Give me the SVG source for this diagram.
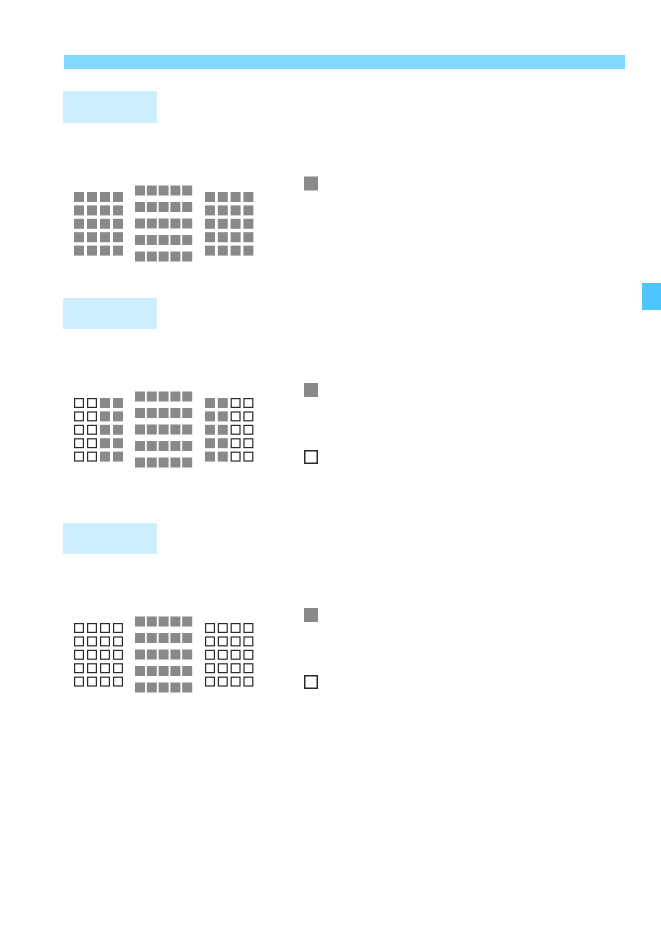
<svg xmlns="http://www.w3.org/2000/svg" xmlns:xlink="http://www.w3.org/1999/xlink" width="661" height="932" viewBox="0 0 661 932">
<style>
.f{fill:#898989}
.o{fill:#ffffff;stroke:#2a2a2a;stroke-width:1.2}
.lb{fill:#cceeff}
</style>
<defs>
<rect id="F" class="f" width="10" height="10"/>
<rect id="O" class="o" x="0.6" y="0.6" width="8.8" height="8.8"/>
<rect id="OL" class="o" x="0.75" y="0.75" width="12.5" height="12.5" style="stroke-width:1.5"/>
<rect id="FL" class="f" width="14" height="14"/>
</defs>
<rect id="topbar" x="64" y="55" width="561" height="14" fill="#80d9ff"/>
<rect id="tab" x="642" y="283" width="19" height="27" fill="#4dc5ff"/>

<g id="section1">
<rect class="lb" x="63" y="91" width="94" height="32"/>
<g id="grid1-left">
<use href="#F" x="74" y="192"/><use href="#F" x="87" y="192"/><use href="#F" x="100" y="192"/><use href="#F" x="113" y="192"/>
<use href="#F" x="74" y="205.4"/><use href="#F" x="87" y="205.4"/><use href="#F" x="100" y="205.4"/><use href="#F" x="113" y="205.4"/>
<use href="#F" x="74" y="218.8"/><use href="#F" x="87" y="218.8"/><use href="#F" x="100" y="218.8"/><use href="#F" x="113" y="218.8"/>
<use href="#F" x="74" y="232.2"/><use href="#F" x="87" y="232.2"/><use href="#F" x="100" y="232.2"/><use href="#F" x="113" y="232.2"/>
<use href="#F" x="74" y="245.6"/><use href="#F" x="87" y="245.6"/><use href="#F" x="100" y="245.6"/><use href="#F" x="113" y="245.6"/>
</g>
<g id="grid1-center">
<use href="#F" x="135" y="185.5"/><use href="#F" x="146.8" y="185.5"/><use href="#F" x="158.6" y="185.5"/><use href="#F" x="170.4" y="185.5"/><use href="#F" x="182.2" y="185.5"/>
<use href="#F" x="135" y="202"/><use href="#F" x="146.8" y="202"/><use href="#F" x="158.6" y="202"/><use href="#F" x="170.4" y="202"/><use href="#F" x="182.2" y="202"/>
<use href="#F" x="135" y="218.5"/><use href="#F" x="146.8" y="218.5"/><use href="#F" x="158.6" y="218.5"/><use href="#F" x="170.4" y="218.5"/><use href="#F" x="182.2" y="218.5"/>
<use href="#F" x="135" y="235"/><use href="#F" x="146.8" y="235"/><use href="#F" x="158.6" y="235"/><use href="#F" x="170.4" y="235"/><use href="#F" x="182.2" y="235"/>
<use href="#F" x="135" y="251.5"/><use href="#F" x="146.8" y="251.5"/><use href="#F" x="158.6" y="251.5"/><use href="#F" x="170.4" y="251.5"/><use href="#F" x="182.2" y="251.5"/>
</g>
<g id="grid1-right">
<use href="#F" x="205" y="192"/><use href="#F" x="217.8" y="192"/><use href="#F" x="230.6" y="192"/><use href="#F" x="243.4" y="192"/>
<use href="#F" x="205" y="205.4"/><use href="#F" x="217.8" y="205.4"/><use href="#F" x="230.6" y="205.4"/><use href="#F" x="243.4" y="205.4"/>
<use href="#F" x="205" y="218.8"/><use href="#F" x="217.8" y="218.8"/><use href="#F" x="230.6" y="218.8"/><use href="#F" x="243.4" y="218.8"/>
<use href="#F" x="205" y="232.2"/><use href="#F" x="217.8" y="232.2"/><use href="#F" x="230.6" y="232.2"/><use href="#F" x="243.4" y="232.2"/>
<use href="#F" x="205" y="245.6"/><use href="#F" x="217.8" y="245.6"/><use href="#F" x="230.6" y="245.6"/><use href="#F" x="243.4" y="245.6"/>
</g>
<use href="#FL" x="304" y="176.5"/>
</g>

<g id="section2" transform="translate(0,206)">
<rect class="lb" x="63" y="92" width="94" height="31"/>
<g id="grid2-left">
<use href="#O" x="74" y="192"/><use href="#O" x="87" y="192"/><use href="#F" x="100" y="192"/><use href="#F" x="113" y="192"/>
<use href="#O" x="74" y="205.4"/><use href="#O" x="87" y="205.4"/><use href="#F" x="100" y="205.4"/><use href="#F" x="113" y="205.4"/>
<use href="#O" x="74" y="218.8"/><use href="#O" x="87" y="218.8"/><use href="#F" x="100" y="218.8"/><use href="#F" x="113" y="218.8"/>
<use href="#O" x="74" y="232.2"/><use href="#O" x="87" y="232.2"/><use href="#F" x="100" y="232.2"/><use href="#F" x="113" y="232.2"/>
<use href="#O" x="74" y="245.6"/><use href="#O" x="87" y="245.6"/><use href="#F" x="100" y="245.6"/><use href="#F" x="113" y="245.6"/>
</g>
<g id="grid2-center">
<use href="#F" x="135" y="185.5"/><use href="#F" x="146.8" y="185.5"/><use href="#F" x="158.6" y="185.5"/><use href="#F" x="170.4" y="185.5"/><use href="#F" x="182.2" y="185.5"/>
<use href="#F" x="135" y="202"/><use href="#F" x="146.8" y="202"/><use href="#F" x="158.6" y="202"/><use href="#F" x="170.4" y="202"/><use href="#F" x="182.2" y="202"/>
<use href="#F" x="135" y="218.5"/><use href="#F" x="146.8" y="218.5"/><use href="#F" x="158.6" y="218.5"/><use href="#F" x="170.4" y="218.5"/><use href="#F" x="182.2" y="218.5"/>
<use href="#F" x="135" y="235"/><use href="#F" x="146.8" y="235"/><use href="#F" x="158.6" y="235"/><use href="#F" x="170.4" y="235"/><use href="#F" x="182.2" y="235"/>
<use href="#F" x="135" y="251.5"/><use href="#F" x="146.8" y="251.5"/><use href="#F" x="158.6" y="251.5"/><use href="#F" x="170.4" y="251.5"/><use href="#F" x="182.2" y="251.5"/>
</g>
<g id="grid2-right">
<use href="#F" x="205" y="192"/><use href="#F" x="217.8" y="192"/><use href="#O" x="230.6" y="192"/><use href="#O" x="243.4" y="192"/>
<use href="#F" x="205" y="205.4"/><use href="#F" x="217.8" y="205.4"/><use href="#O" x="230.6" y="205.4"/><use href="#O" x="243.4" y="205.4"/>
<use href="#F" x="205" y="218.8"/><use href="#F" x="217.8" y="218.8"/><use href="#O" x="230.6" y="218.8"/><use href="#O" x="243.4" y="218.8"/>
<use href="#F" x="205" y="232.2"/><use href="#F" x="217.8" y="232.2"/><use href="#O" x="230.6" y="232.2"/><use href="#O" x="243.4" y="232.2"/>
<use href="#F" x="205" y="245.6"/><use href="#F" x="217.8" y="245.6"/><use href="#O" x="230.6" y="245.6"/><use href="#O" x="243.4" y="245.6"/>
</g>
<use href="#FL" x="304" y="177"/>
<use href="#OL" x="304" y="244"/>
</g>

<g id="section3" transform="translate(0,431)">
<rect class="lb" x="63" y="92" width="94" height="31"/>
<g id="grid3-left">
<use href="#O" x="74" y="192"/><use href="#O" x="87" y="192"/><use href="#O" x="100" y="192"/><use href="#O" x="113" y="192"/>
<use href="#O" x="74" y="205.4"/><use href="#O" x="87" y="205.4"/><use href="#O" x="100" y="205.4"/><use href="#O" x="113" y="205.4"/>
<use href="#O" x="74" y="218.8"/><use href="#O" x="87" y="218.8"/><use href="#O" x="100" y="218.8"/><use href="#O" x="113" y="218.8"/>
<use href="#O" x="74" y="232.2"/><use href="#O" x="87" y="232.2"/><use href="#O" x="100" y="232.2"/><use href="#O" x="113" y="232.2"/>
<use href="#O" x="74" y="245.6"/><use href="#O" x="87" y="245.6"/><use href="#O" x="100" y="245.6"/><use href="#O" x="113" y="245.6"/>
</g>
<g id="grid3-center">
<use href="#F" x="135" y="185.5"/><use href="#F" x="146.8" y="185.5"/><use href="#F" x="158.6" y="185.5"/><use href="#F" x="170.4" y="185.5"/><use href="#F" x="182.2" y="185.5"/>
<use href="#F" x="135" y="202"/><use href="#F" x="146.8" y="202"/><use href="#F" x="158.6" y="202"/><use href="#F" x="170.4" y="202"/><use href="#F" x="182.2" y="202"/>
<use href="#F" x="135" y="218.5"/><use href="#F" x="146.8" y="218.5"/><use href="#F" x="158.6" y="218.5"/><use href="#F" x="170.4" y="218.5"/><use href="#F" x="182.2" y="218.5"/>
<use href="#F" x="135" y="235"/><use href="#F" x="146.8" y="235"/><use href="#F" x="158.6" y="235"/><use href="#F" x="170.4" y="235"/><use href="#F" x="182.2" y="235"/>
<use href="#F" x="135" y="251.5"/><use href="#F" x="146.8" y="251.5"/><use href="#F" x="158.6" y="251.5"/><use href="#F" x="170.4" y="251.5"/><use href="#F" x="182.2" y="251.5"/>
</g>
<g id="grid3-right">
<use href="#O" x="205" y="192"/><use href="#O" x="217.8" y="192"/><use href="#O" x="230.6" y="192"/><use href="#O" x="243.4" y="192"/>
<use href="#O" x="205" y="205.4"/><use href="#O" x="217.8" y="205.4"/><use href="#O" x="230.6" y="205.4"/><use href="#O" x="243.4" y="205.4"/>
<use href="#O" x="205" y="218.8"/><use href="#O" x="217.8" y="218.8"/><use href="#O" x="230.6" y="218.8"/><use href="#O" x="243.4" y="218.8"/>
<use href="#O" x="205" y="232.2"/><use href="#O" x="217.8" y="232.2"/><use href="#O" x="230.6" y="232.2"/><use href="#O" x="243.4" y="232.2"/>
<use href="#O" x="205" y="245.6"/><use href="#O" x="217.8" y="245.6"/><use href="#O" x="230.6" y="245.6"/><use href="#O" x="243.4" y="245.6"/>
</g>
<use href="#FL" x="304" y="177"/>
<use href="#OL" x="304" y="244"/>
</g>
</svg>
